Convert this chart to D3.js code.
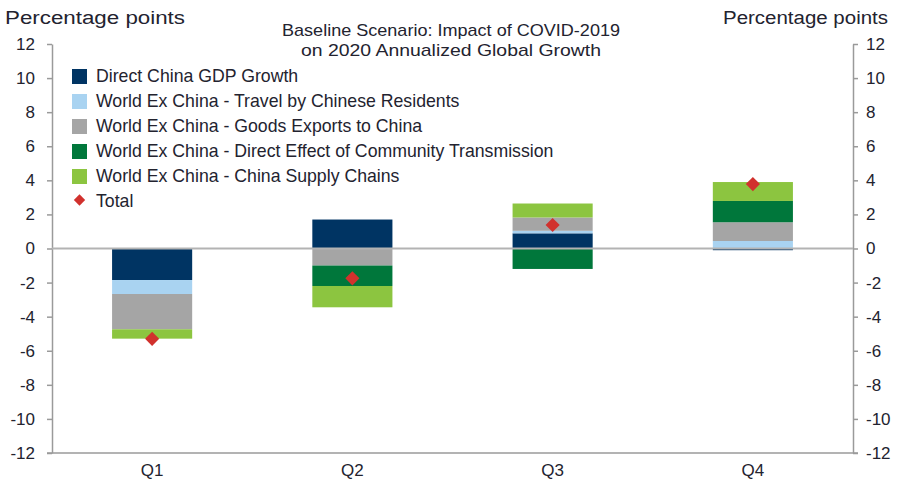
<!DOCTYPE html>
<html>
<head>
<meta charset="utf-8">
<script src="https://cdn.jsdelivr.net/npm/d3@7"></script>
<style>
  body { margin: 0; background: #fff; }
  svg { font-family: "Liberation Sans", Arial, sans-serif; }
  text { fill: #23232f; }
</style>
</head>
<body>
<svg width="903" height="487"></svg>
<script>
// data
var quarters = ['Q1', 'Q2', 'Q3', 'Q4'];
var seriesNames = [
  'Direct China GDP Growth',
  'World Ex China - Travel by Chinese Residents',
  'World Ex China - Goods Exports to China',
  'World Ex China - Direct Effect of Community Transmission',
  'World Ex China - China Supply Chains'
];
var chinaGdp      = [-1.85, 1.70, 0.89, -0.10];
var travel        = [-0.82, 0.00, 0.15, 0.44];
var goodsExports  = [-2.07, -1.00, 0.78, 1.10];
var community     = [0.00, -1.20, -1.20, 1.25];
var supplyChains  = [-0.55, -1.25, 0.82, 1.11];
var total         = [-5.30, -1.75, 1.38, 3.78];
var yTicks = [12, 10, 8, 6, 4, 2, 0, -2, -4, -6, -8, -10, -12];
var colors = ['#003463', '#a9d3f1', '#a5a5a5', '#00773b', '#8cc540'];
var totalColor = '#d1312d';

var seriesValues = [chinaGdp, travel, goodsExports, community, supplyChains];
var rows = quarters.map(function(q, i) {
  var r = { q: q };
  seriesNames.forEach(function(s, j) { r[s] = seriesValues[j][i]; });
  return r;
});

var svg = d3.select('svg');
var plotLeft = 52, plotRight = 853, plotTop = 44, plotBottom = 453;

var x = d3.scaleBand().domain(quarters).range([plotLeft, plotRight])
          .paddingInner(0.6).paddingOuter(0.3);
var y = d3.scaleLinear().domain([-12, 12]).range([plotBottom, plotTop]);

var stacked = d3.stack().keys(seriesNames)
                .offset(d3.stackOffsetDiverging)(rows);

// axes (plain hyphen for negatives, like the original)
var fmt = function(d) { return String(d); };
var yl = svg.append('g').attr('transform', 'translate(' + plotLeft + ',0)')
            .call(d3.axisLeft(y).tickValues(yTicks).tickFormat(fmt)
                  .tickSize(5).tickSizeOuter(0).tickPadding(12));
var yr = svg.append('g').attr('transform', 'translate(' + plotRight + ',0)')
            .call(d3.axisRight(y).tickValues(yTicks).tickFormat(fmt)
                  .tickSize(5).tickSizeOuter(0).tickPadding(8));
[yl, yr].forEach(function(g) {
  g.selectAll('path, line').attr('stroke', '#9a9a9a').attr('stroke-width', 1.5);
  g.selectAll('text').attr('font-size', 17).style('fill', '#23232f');
});

// bottom axis line
svg.append('line').attr('x1', plotLeft - 5).attr('x2', plotRight + 5)
   .attr('y1', y(-12)).attr('y2', y(-12))
   .attr('stroke', '#9a9a9a').attr('stroke-width', 1.5);

// category labels
svg.selectAll('.cat').data(quarters).enter().append('text')
   .attr('x', function(d) { return x(d) + x.bandwidth() / 2; })
   .attr('y', 476)
   .attr('text-anchor', 'middle')
   .attr('font-size', 17)
   .text(function(d) { return d; });

// bars
svg.selectAll('.series').data(stacked).enter().append('g')
   .attr('fill', function(d, i) { return colors[i]; })
   .selectAll('rect').data(function(d) { return d; }).enter().append('rect')
   .attr('x', function(d) { return x(d.data.q); })
   .attr('width', x.bandwidth())
   .attr('y', function(d) { return y(Math.max(d[0], d[1])); })
   .attr('height', function(d) { return Math.abs(y(d[0]) - y(d[1])); });

// zero line
svg.append('line').attr('x1', plotLeft).attr('x2', plotRight)
   .attr('y1', y(0)).attr('y2', y(0))
   .attr('stroke', '#b3b3b3').attr('stroke-width', 2);

// total markers
svg.selectAll('.tot').data(total).enter().append('path')
   .attr('d', d3.symbol(d3.symbolSquare).size(100))
   .attr('fill', totalColor)
   .attr('transform', function(d, i) {
     return 'translate(' + (x(quarters[i]) + x.bandwidth() / 2) + ',' + y(d) + ') rotate(45)';
   });

// titles
function fitText(xp, yp, size, anchor, len, str) {
  svg.append('text').attr('x', xp).attr('y', yp).attr('font-size', size)
     .attr('text-anchor', anchor).attr('textLength', len)
     .attr('lengthAdjust', 'spacingAndGlyphs').text(str);
}
fitText(5, 24, 18, 'start', 180, 'Percentage  points');
fitText(888, 24, 18, 'end', 165, 'Percentage  points');
fitText(451, 36, 17, 'middle', 338, 'Baseline Scenario: Impact of COVID-2019');
fitText(451, 56, 17, 'middle', 300, 'on 2020 Annualized Global Growth');

// legend
var legend = svg.append('g').attr('transform', 'translate(72,68)');
var items = seriesNames.concat(['Total']);
var lg = legend.selectAll('g').data(items).enter().append('g')
   .attr('transform', function(d, i) { return 'translate(0,' + (i * 25) + ')'; });
lg.each(function(d, i) {
  var g = d3.select(this);
  if (i < seriesNames.length) {
    g.append('rect').attr('y', 1).attr('width', 15).attr('height', 15).attr('fill', colors[i]);
  } else {
    g.append('path').attr('d', d3.symbol(d3.symbolSquare).size(64))
     .attr('fill', totalColor).attr('transform', 'translate(7.5,7) rotate(45)');
  }
  g.append('text').attr('x', 24).attr('y', 14).attr('font-size', 17.7).text(d);
});
</script>
</body>
</html>
